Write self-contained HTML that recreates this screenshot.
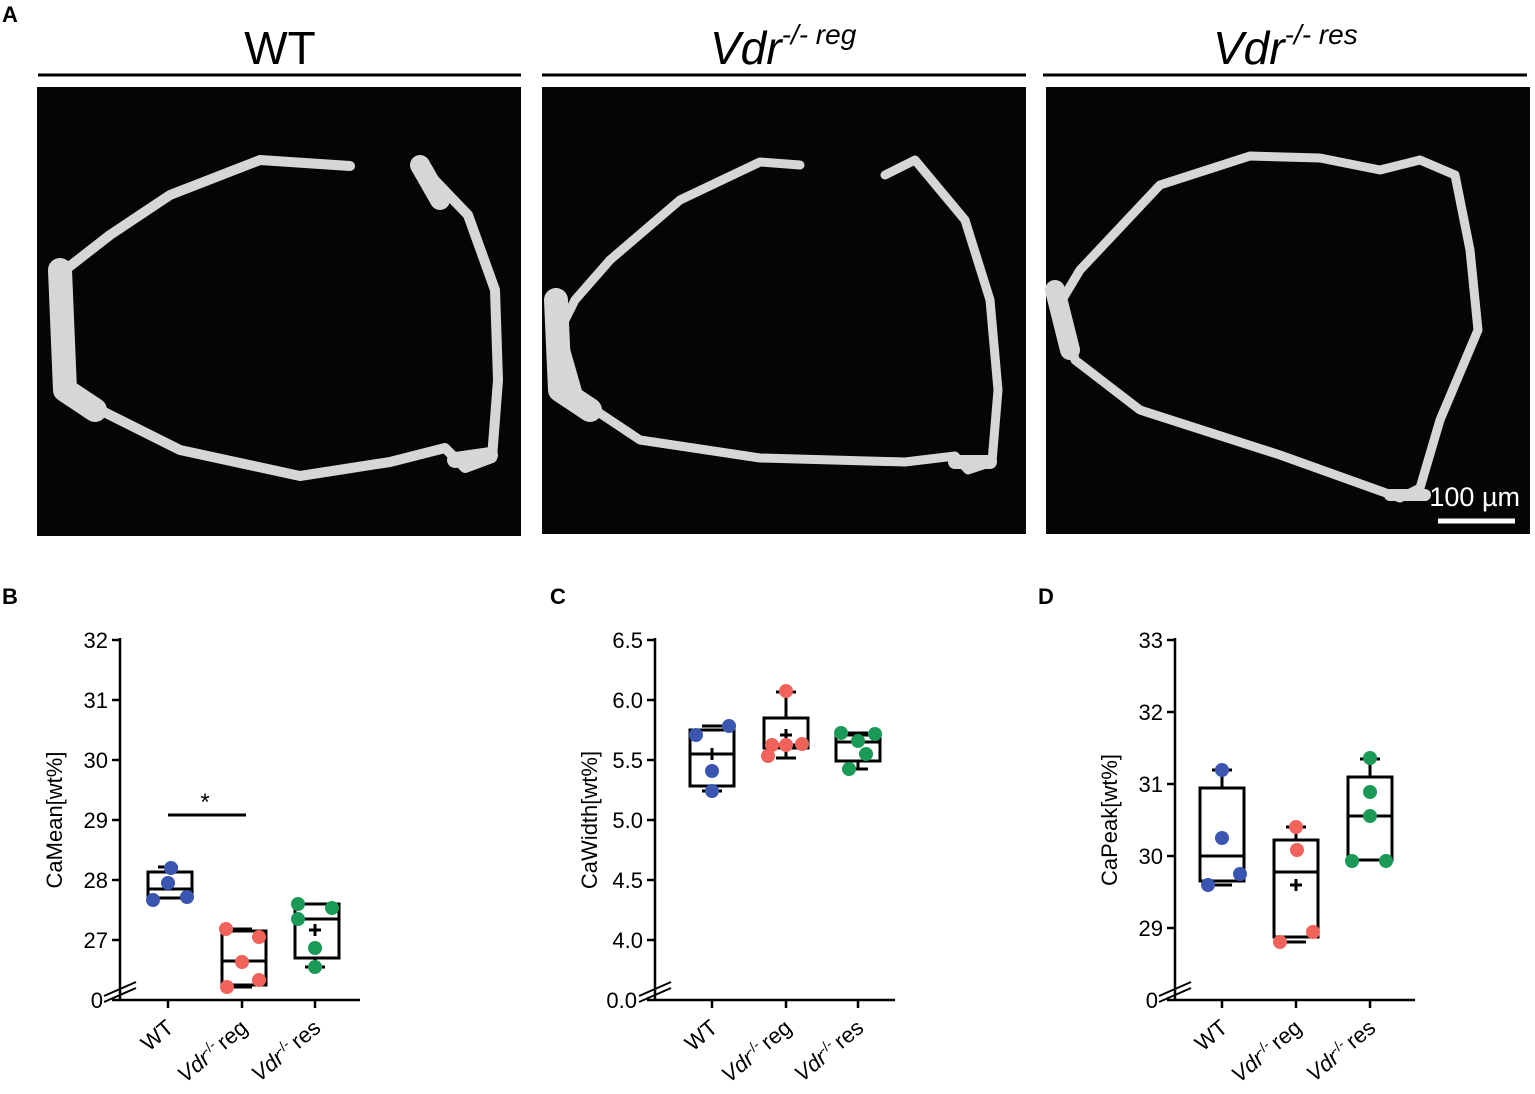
<!DOCTYPE html>
<html><head><meta charset="utf-8"><style>
html,body{margin:0;padding:0;background:#fff;}
svg{display:block;font-family:"Liberation Sans",Arial,sans-serif;}
</style></head><body>
<svg width="1535" height="1094" viewBox="0 0 1535 1094" xmlns="http://www.w3.org/2000/svg">
<text x="2" y="22" font-size="22" font-weight="bold">A</text>
<text x="280" y="64" font-size="46" text-anchor="middle">WT</text>
<text x="710" y="64" font-size="46" font-style="italic">Vdr<tspan font-size="28" dy="-20">-/- reg</tspan></text>
<text x="1213" y="64" font-size="46" font-style="italic">Vdr<tspan font-size="28" dy="-20">-/- res</tspan></text>
<g stroke="#000" stroke-width="3"><line x1="38" y1="75" x2="521" y2="75"/><line x1="542" y1="75" x2="1026" y2="75"/><line x1="1043" y1="75" x2="1527" y2="75"/></g>
<rect x="37" y="87" width="484" height="449" fill="#050505"/>
<rect x="542" y="87" width="484" height="447" fill="#050505"/>
<rect x="1046" y="87" width="484" height="447" fill="#050505"/>
<g fill="none" stroke="#d6d6d6" stroke-linejoin="round" stroke-linecap="round">
<path d="M350 166 L260 160 L170 195 L110 235 L65 270 L58 330 L70 390 L100 410 L180 450 L300 476 L390 462 L445 448 L465 468 L492 458 L498 380 L495 290 L468 215 L420 165" stroke-width="10"/>
<path d="M60 270 L65 390 L95 410" stroke-width="24"/>
<path d="M455 460 L490 455" stroke-width="16"/>
<path d="M420 165 L440 200" stroke-width="20"/>
<path d="M800 165 L760 162 L680 200 L610 260 L575 300 L560 330 L580 400 L640 440 L760 458 L905 462 L955 456 L968 470 L992 462 L998 390 L990 300 L965 220 L915 160 L885 175" stroke-width="9"/>
<path d="M556 300 L560 390 L590 410" stroke-width="24"/>
<path d="M955 462 L990 462" stroke-width="14"/>
<path d="M1320 158 L1250 156 L1160 185 L1080 270 L1062 300 L1075 360 L1140 410 L1280 455 L1400 498 L1420 488 L1440 420 L1478 330 L1470 250 L1455 175 L1420 160 L1380 170 L1320 158" stroke-width="9"/>
<path d="M1055 290 L1070 350" stroke-width="20"/>
<path d="M1390 495 L1425 495" stroke-width="12"/>
</g>
<text x="1520" y="506" font-size="27" fill="#fff" text-anchor="end">100 µm</text>
<line x1="1438" y1="521" x2="1515" y2="521" stroke="#fff" stroke-width="5"/>

<text x="2" y="604" font-size="22" font-weight="bold">B</text>
<text x="550" y="604" font-size="22" font-weight="bold">C</text>
<text x="1038" y="604" font-size="22" font-weight="bold">D</text>

<g stroke="#000" stroke-width="2.5" fill="none">
<path d="M120 638 V1000 H360"/>
<path d="M112 640 H120 M112 700 H120 M112 760 H120 M112 820 H120 M112 880 H120 M112 940 H120 M112 1000 H120"/>
<path d="M168 1000 v8 M242 1000 v8 M315 1000 v8"/>
<path d="M104 996 L136 982 M104 1002 L136 988" stroke-width="2"/>
<path d="M655 638 V1000 H895"/>
<path d="M647 640 H655 M647 700 H655 M647 760 H655 M647 820 H655 M647 880 H655 M647 940 H655 M647 1000 H655"/>
<path d="M712 1000 v8 M786 1000 v8 M858 1000 v8"/>
<path d="M639 996 L671 982 M639 1002 L671 988" stroke-width="2"/>
<path d="M1175 638 V1000 H1415"/>
<path d="M1167 640 H1175 M1167 712 H1175 M1167 784 H1175 M1167 856 H1175 M1167 928 H1175 M1167 1000 H1175"/>
<path d="M1222 1000 v8 M1296 1000 v8 M1370 1000 v8"/>
<path d="M1159 996 L1191 982 M1159 1002 L1191 988" stroke-width="2"/>
</g>
<g font-size="22" text-anchor="end">
<text x="108" y="648">32</text><text x="108" y="708">31</text><text x="108" y="768">30</text><text x="108" y="828">29</text><text x="108" y="888">28</text><text x="108" y="948">27</text><text x="103" y="1008">0</text>
<text x="643" y="648">6.5</text><text x="643" y="708">6.0</text><text x="643" y="768">5.5</text><text x="643" y="828">5.0</text><text x="643" y="888">4.5</text><text x="643" y="948">4.0</text><text x="637" y="1008">0.0</text>
<text x="1163" y="648">33</text><text x="1163" y="720">32</text><text x="1163" y="792">31</text><text x="1163" y="864">30</text><text x="1163" y="936">29</text><text x="1158" y="1008">0</text>
</g>
<g font-size="22" text-anchor="middle">
<text transform="translate(62,820) rotate(-90)">CaMean[wt%]</text>
<text transform="translate(597,820) rotate(-90)">CaWidth[wt%]</text>
<text transform="translate(1117,820) rotate(-90)">CaPeak[wt%]</text>
</g>
<g font-size="22" text-anchor="end">
<text transform="translate(175,1030) rotate(-40)">WT</text>
<text transform="translate(249,1030) rotate(-40)"><tspan font-style="italic">Vdr</tspan><tspan font-size="14" dy="-8">-/- </tspan><tspan dy="8">reg</tspan></text>
<text transform="translate(322,1030) rotate(-40)"><tspan font-style="italic">Vdr</tspan><tspan font-size="14" dy="-8">-/- </tspan><tspan dy="8">res</tspan></text>
<text transform="translate(719,1030) rotate(-40)">WT</text>
<text transform="translate(793,1030) rotate(-40)"><tspan font-style="italic">Vdr</tspan><tspan font-size="14" dy="-8">-/- </tspan><tspan dy="8">reg</tspan></text>
<text transform="translate(865,1030) rotate(-40)"><tspan font-style="italic">Vdr</tspan><tspan font-size="14" dy="-8">-/- </tspan><tspan dy="8">res</tspan></text>
<text transform="translate(1229,1030) rotate(-40)">WT</text>
<text transform="translate(1303,1030) rotate(-40)"><tspan font-style="italic">Vdr</tspan><tspan font-size="14" dy="-8">-/- </tspan><tspan dy="8">reg</tspan></text>
<text transform="translate(1377,1030) rotate(-40)"><tspan font-style="italic">Vdr</tspan><tspan font-size="14" dy="-8">-/- </tspan><tspan dy="8">res</tspan></text>
</g>
<line x1="168" y1="815" x2="246" y2="815" stroke="#000" stroke-width="3"/>
<text x="205" y="810" font-size="24" text-anchor="middle">*</text>

<g stroke="#000" stroke-width="3" fill="none">
<path d="M148 872 H192 V898 H148 Z M148 889 H192 M168 868 V872 M158 867 H178"/>
<path d="M222 931 H266 V985 H222 Z M222 961 H266 M232 929 H252 M232 987 H252"/>
<path d="M295 904 H339 V958 H295 Z M295 919 H339 M305 904 H325 M315 958 V967 M305 967 H325 M309 930 H321 M315 924 V936"/>
<path d="M690 730 H734 V786 H690 Z M690 754 H734 M702 726 H722 M712 786 V791 M702 791 H722 M706 754 H718 M712 748 V760"/>
<path d="M764 718 H808 V748 H764 Z M764 745 H808 M786 718 V692 M776 692 H796 M786 748 V758 M776 758 H796 M780 735 H792 M786 729 V741"/>
<path d="M836 735 H880 V761 H836 Z M836 742 H880 M848 733 H868 M858 761 V769 M848 769 H868"/>
<path d="M1200 788 H1244 V881 H1200 Z M1200 856 H1244 M1222 788 V770 M1212 770 H1232 M1212 885 H1232"/>
<path d="M1274 840 H1318 V937 H1274 Z M1274 872 H1318 M1296 840 V827 M1286 827 H1306 M1286 942 H1306 M1290 885 H1302 M1296 879 V891"/>
<path d="M1348 777 H1392 V860 H1348 Z M1348 816 H1392 M1370 777 V759 M1360 759 H1380"/>
</g>
<g fill="#3a56b0">
<circle cx="171" cy="868" r="7"/><circle cx="168" cy="883" r="7"/><circle cx="153" cy="900" r="7"/><circle cx="187" cy="897" r="7"/>
<circle cx="696" cy="735" r="7"/><circle cx="729" cy="726" r="7"/><circle cx="712" cy="771" r="7"/><circle cx="712" cy="791" r="7"/>
<circle cx="1222" cy="770" r="7"/><circle cx="1222" cy="838" r="7"/><circle cx="1208" cy="885" r="7"/><circle cx="1240" cy="874" r="7"/>
</g>
<g fill="#f0625a">
<circle cx="226" cy="929" r="7"/><circle cx="259" cy="937" r="7"/><circle cx="242" cy="962" r="7"/><circle cx="227" cy="987" r="7"/><circle cx="259" cy="980" r="7"/>
<circle cx="786" cy="691" r="7"/><circle cx="768" cy="756" r="7"/><circle cx="786" cy="745" r="7"/><circle cx="802" cy="744" r="7"/><circle cx="772" cy="745" r="7"/>
<circle cx="1296" cy="827" r="7"/><circle cx="1297" cy="850" r="7"/><circle cx="1280" cy="942" r="7"/><circle cx="1313" cy="932" r="7"/>
</g>
<g fill="#1a9a57">
<circle cx="298" cy="904" r="7"/><circle cx="332" cy="908" r="7"/><circle cx="298" cy="919" r="7"/><circle cx="315" cy="948" r="7"/><circle cx="315" cy="967" r="7"/>
<circle cx="841" cy="733" r="7"/><circle cx="875" cy="734" r="7"/><circle cx="858" cy="741" r="7"/><circle cx="849" cy="769" r="7"/><circle cx="866" cy="754" r="7"/>
<circle cx="1370" cy="758" r="7"/><circle cx="1370" cy="792" r="7"/><circle cx="1370" cy="816" r="7"/><circle cx="1352" cy="861" r="7"/><circle cx="1386" cy="861" r="7"/>
</g>
</svg>
</body></html>
